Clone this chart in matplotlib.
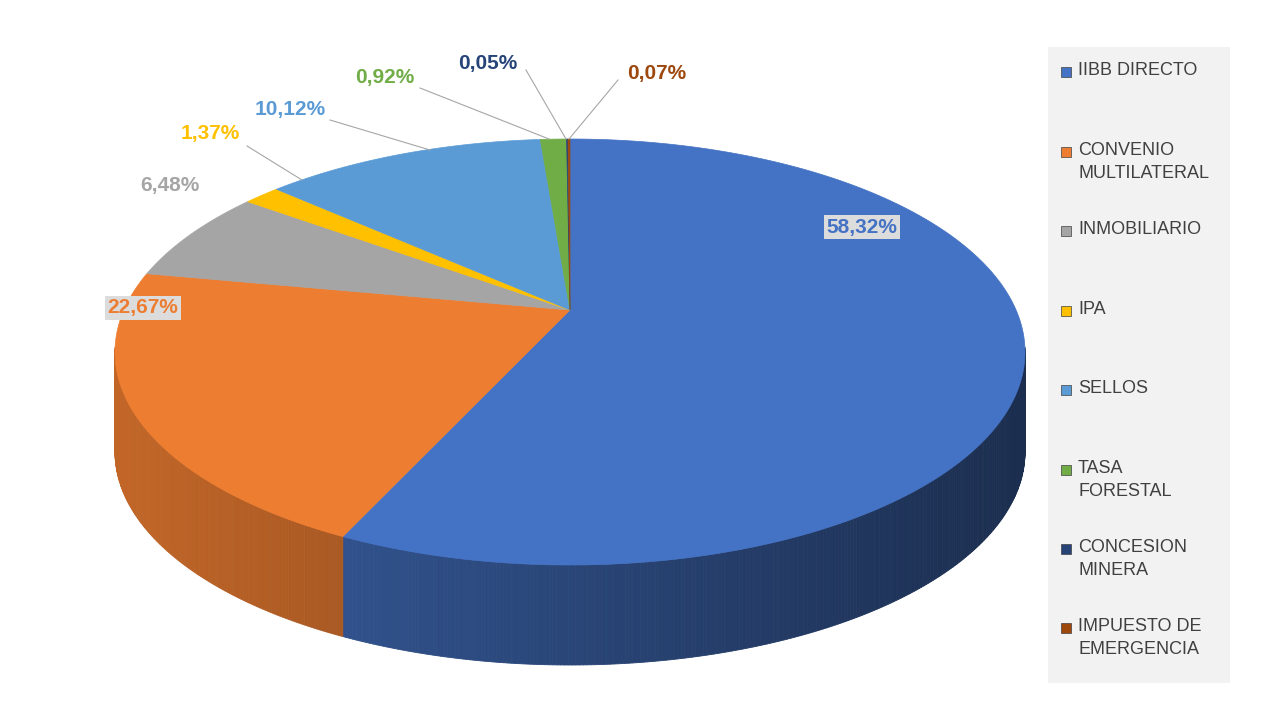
import numpy as np
import matplotlib
matplotlib.use("Agg")
import matplotlib.pyplot as plt
from matplotlib.colors import to_rgb
from matplotlib.patches import Polygon, Rectangle

categories = ["IIBB DIRECTO", "CONVENIO\nMULTILATERAL", "INMOBILIARIO", "IPA", "SELLOS",
              "TASA\nFORESTAL", "CONCESION\nMINERA", "IMPUESTO DE\nEMERGENCIA"]
values = [58.32, 22.67, 6.48, 1.37, 10.12, 0.92, 0.05, 0.07]
labels = ["58,32%", "22,67%", "6,48%", "1,37%", "10,12%", "0,92%", "0,05%", "0,07%"]
colors = ["#4472C4", "#ED7D31", "#A5A5A5", "#FFC000", "#5B9BD5", "#70AD47", "#264478", "#9E480E"]

# label placement (pixel coords), leader line or None, boxed label
label_pos = [(862, 227), (143, 308), (170, 186), (210, 134), (290, 110), (385, 78), (488, 64), (657, 74)]
leaders = [None, None, None, ((247, 146), (302, 180)), ((330, 120), (430, 150)),
           ((420, 88), (549, 139)), ((526, 70), (566, 139)), ((618, 80), (569, 139))]
boxed = [True, True, False, False, False, False, False, False]

# ellipse centre, radii, side depth, apex (perspective)
cx, cy, rx, ry, depth = 570, 352, 455, 213, 100
apex = (570, 310)

fig = plt.figure(figsize=(12.8, 7.2), dpi=100)
ax = fig.add_axes([0, 0, 1, 1])
ax.set_xlim(0, 1280)
ax.set_ylim(720, 0)
ax.axis("off")

def pt(t):
    return cx + rx * np.cos(t), cy - ry * np.sin(t)

fracs = np.array(values) / sum(values)
edges = np.pi / 2 - 2 * np.pi * np.concatenate([[0], np.cumsum(fracs)])

# sides (front half only), drawn as shaded strips
for i in range(len(values)):
    a0, a1 = edges[i], edges[i + 1]
    ts = np.linspace(a0, a1, max(3, int(abs(a1 - a0) * 120)))
    base = np.array(to_rgb(colors[i]))
    for j in range(len(ts) - 1):
        tm = 0.5 * (ts[j] + ts[j + 1])
        if np.sin(tm) > 0.02:
            continue
        x1, y1 = pt(ts[j]); x2, y2 = pt(ts[j + 1])
        shade = 0.82 - 0.42 * (np.cos(tm) + 1) / 2
        c = np.clip(base * shade, 0, 1)
        ax.add_patch(Polygon([(x1, y1), (x2, y2), (x2, y2 + depth), (x1, y1 + depth)],
                             closed=True, fc=c, ec=c, lw=0.6))

# tops
for i in range(len(values)):
    ts = np.linspace(edges[i], edges[i + 1], max(3, int(abs(edges[i + 1] - edges[i]) * 200)))
    xs, ys = pt(ts)
    verts = [apex] + list(zip(xs, ys))
    ax.add_patch(Polygon(verts, closed=True, fc=colors[i], ec=colors[i], lw=0.5))

# labels
for i, lab in enumerate(labels):
    x, y = label_pos[i]
    bbox = dict(boxstyle="square,pad=0.12", fc="#DCDCDC", ec="none") if boxed[i] else None
    ax.text(x, y, lab, color=colors[i], fontsize=15, fontweight="bold", ha="center", va="center",
            family="Liberation Sans", bbox=bbox)
    if leaders[i]:
        (xa, ya), (xb, yb) = leaders[i]
        ax.plot([xa, xb], [ya, yb], color="#A6A6A6", lw=0.8)

# legend
ax.add_patch(Rectangle((1048, 47), 182, 636, fc="#F2F2F2", ec="none"))
leg_y = [72, 152, 231, 311, 390, 470, 549, 628]
for i, cat in enumerate(categories):
    ax.add_patch(Rectangle((1061, leg_y[i] - 5), 10, 10, fc=colors[i], ec="#404040", lw=0.5))
    ax.text(1078, leg_y[i] - 10, cat, fontsize=13, color="#404040", ha="left", va="top",
            family="Liberation Sans", linespacing=1.45)

fig.savefig("out.png", dpi=100)
